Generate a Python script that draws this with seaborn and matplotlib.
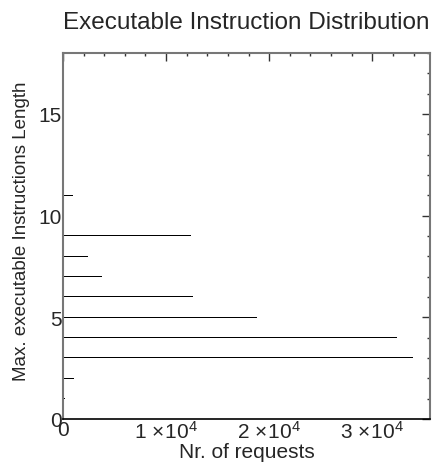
import numpy as np
import pandas as pd
import matplotlib
matplotlib.use('Agg')
import matplotlib.pyplot as plt
import matplotlib.ticker as mticker
import seaborn as sns

# Dados: comprimento máximo x número de requisições
comprimento = [1, 2, 3, 4, 5, 6, 7, 8, 9, 11]
requisicoes = [200, 1050, 33900, 32400, 18800, 12600, 3800, 2400, 12400, 950]

dados = pd.DataFrame({'comprimento': comprimento, 'requisicoes': requisicoes})

sns.set_style('white')
plt.rcParams['font.family'] = ['Liberation Sans', 'DejaVu Sans']
plt.rcParams['mathtext.fontset'] = 'custom'
plt.rcParams['mathtext.rm'] = 'Liberation Sans'
plt.rcParams['mathtext.it'] = 'Liberation Sans:italic'

fig = plt.figure(figsize=(4.43, 4.64), dpi=100)
ax = fig.add_axes([0.142, 0.095, 0.829, 0.789])

sns.barplot(data=dados, x='requisicoes', y='comprimento', orient='h',
            native_scale=True, width=0.04, color='black', saturation=1,
            edgecolor='none', ax=ax)

ax.set_xlim(0, 35600)
ax.set_ylim(0, 18)

ax.xaxis.set_major_locator(mticker.MultipleLocator(10000))
ax.xaxis.set_minor_locator(mticker.MultipleLocator(2000))
ax.yaxis.set_major_locator(mticker.MultipleLocator(5))
ax.yaxis.set_minor_locator(mticker.MultipleLocator(1))


def fmt_x(v, pos):
    if v == 0:
        return '0'
    return r'$%d\,\times\!10^{4}$' % round(v / 10000)


ax.xaxis.set_major_formatter(mticker.FuncFormatter(fmt_x))

ax.tick_params(which='both', direction='in', top=True, right=True,
               color='#333333')
ax.tick_params(which='major', length=6, width=1, labelsize=15, pad=1)
ax.tick_params(which='minor', length=2, width=1)

for lado in ['left', 'top', 'right']:
    ax.spines[lado].set_color('#777777')
    ax.spines[lado].set_linewidth(1.5)
ax.spines['bottom'].set_color('black')
ax.spines['bottom'].set_linewidth(1.2)

ax.set_title('Executable Instruction Distribution', fontsize=17.5, pad=18)
ax.set_xlabel('Nr. of requests', fontsize=15, labelpad=0)
ax.set_ylabel('Max. executable Instructions Length', fontsize=13.5)
ax.yaxis.set_label_coords(-0.09, 0.516)

fig.savefig('out.png', dpi=100)
